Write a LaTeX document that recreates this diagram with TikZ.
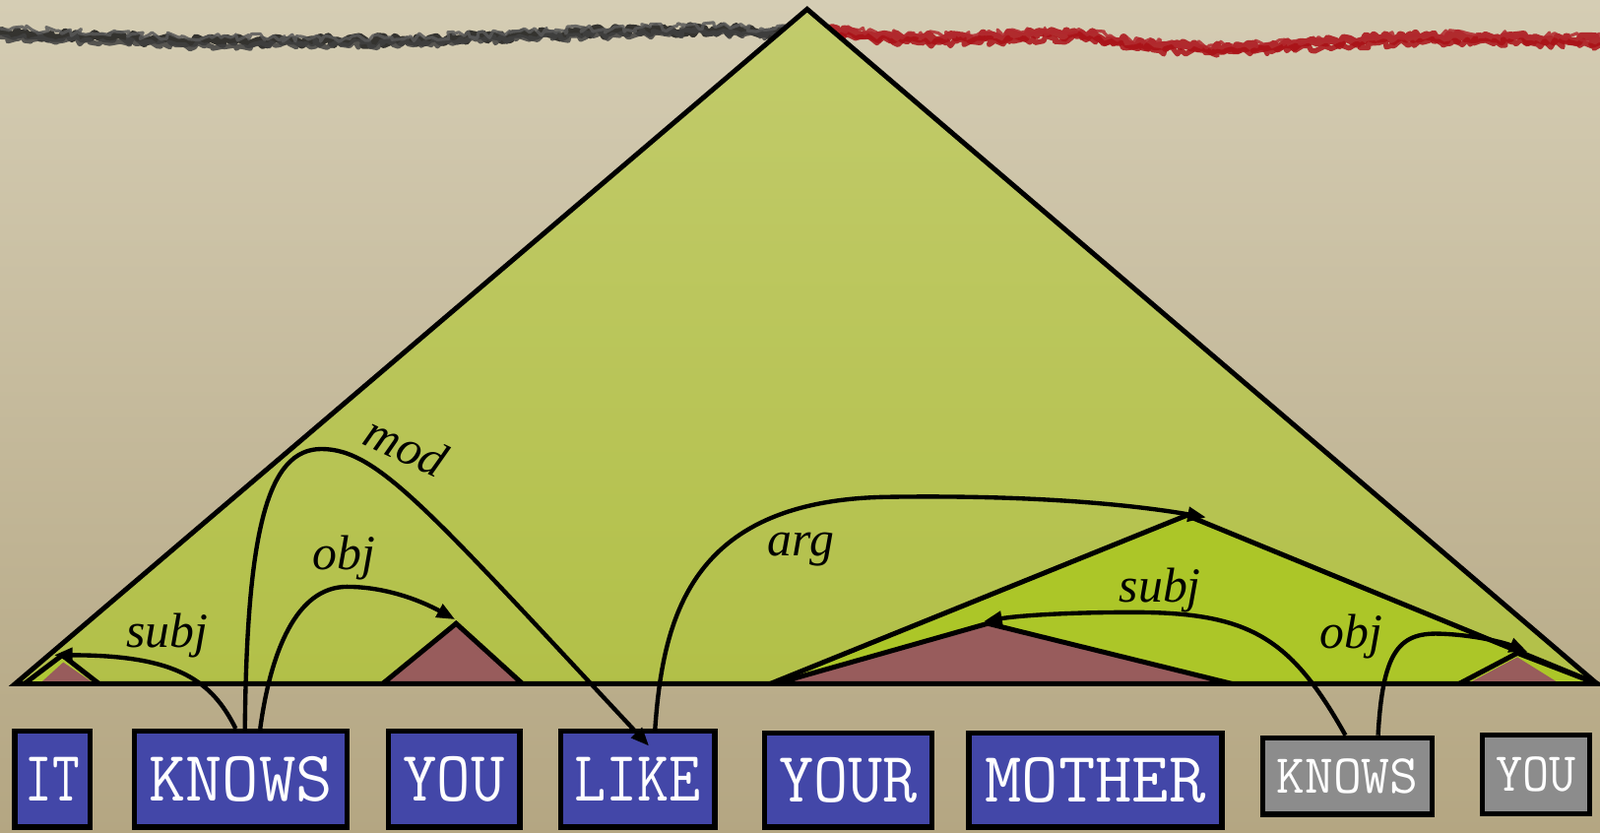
\documentclass[tikz,border=0pt]{standalone}
\usepackage{fontspec}
\newfontfamily\lblfont{Liberation Serif}
\usetikzlibrary{arrows.meta,decorations.pathmorphing}
\definecolor{paperTop}{RGB}{213,205,180}
\definecolor{paperBot}{RGB}{180,166,130}
\definecolor{limeTop}{RGB}{194,203,108}
\definecolor{limeBot}{RGB}{178,192,72}
\definecolor{brightLime}{RGB}{172,198,40}
\definecolor{rose}{RGB}{152,92,92}
\definecolor{boxblue}{RGB}{67,71,168}
\definecolor{boxgrey}{RGB}{140,140,140}
\definecolor{scribred}{RGB}{170,16,22}
\tikzset{
  tri/.style={draw=black, line width=2.4pt, line join=miter},
  conn/.style={draw=black, line width=2.1pt, -{Triangle[length=9pt,width=7pt]}},
  wbox/.style={draw=black, line width=2.5pt, fill=boxblue, text=white, inner sep=0pt,
    font=\ttfamily\addfontfeatures{FakeBold=1.2}\fontsize{35}{35}\selectfont, minimum height=47pt},
  gbox/.style={wbox, fill=boxgrey, font=\ttfamily\addfontfeatures{FakeBold=1.2}\fontsize{27}{27}\selectfont, minimum height=37.5pt},
  lbl/.style={font=\lblfont\itshape\fontsize{24}{24}\selectfont, inner sep=0pt, anchor=base},
  scribble/.style={line width=4pt, line cap=round, line join=round, opacity=0.85,
    decorate, decoration={random steps, segment length=2pt, amplitude=2pt}}
}
\begin{document}
\begin{tikzpicture}[x=0.5pt,y=-0.5pt]
\useasboundingbox (0,0) rectangle (1568,816);
% paper
\shade[top color=paperTop, bottom color=paperBot] (0,0) rectangle (1568,816);
% scribbled rules
\draw[scribble, black!90] (0,31) -- (50,34) -- (100,36) -- (150,39) -- (200,41) -- (300,40) -- (400,40) -- (450,38) -- (500,35) -- (600,31) -- (700,29) -- (760,31) -- (810,33);
\draw[scribble, black!75, line width=2.5pt] (0,36) -- (100,40) -- (200,45) -- (300,43) -- (400,43) -- (500,38) -- (600,34) -- (700,32) -- (810,36);
\draw[scribble, black!65, line width=1.5pt] (0,28) -- (100,33) -- (200,37) -- (300,37) -- (400,37) -- (500,32) -- (600,28) -- (700,26) -- (810,30);
\draw[scribble, scribred] (810,31) -- (860,35) -- (900,38) -- (950,37) -- (1000,35) -- (1060,33) -- (1100,40) -- (1130,45) -- (1200,47) -- (1250,45) -- (1300,42) -- (1350,38) -- (1400,36) -- (1450,37) -- (1500,38) -- (1568,40);
\draw[scribble, scribred, line width=2.5pt] (810,35) -- (900,42) -- (1000,39) -- (1060,37) -- (1130,49) -- (1200,51) -- (1300,46) -- (1400,40) -- (1500,42) -- (1568,44);
\draw[scribble, scribred!90, line width=1.5pt] (810,28) -- (900,35) -- (1000,32) -- (1060,30) -- (1130,42) -- (1200,44) -- (1300,39) -- (1400,33) -- (1500,35) -- (1568,37);
% big triangle
\path[tri, top color=limeTop, bottom color=limeBot] (15,670) -- (791,9) -- (1565,670) -- cycle;
% right subtree
\path[tri, fill=brightLime] (755,670) -- (1163,505) -- (1565,670) -- cycle;
\path[tri, fill=rose] (760,670) -- (968,611) -- (1207,670) -- cycle;
\fill[brightLime] (1430,670) -- (1487,640) -- (1565,670) -- cycle;
\fill[rose] (1440,669) -- (1487,644) -- (1527,669) -- cycle;
\draw[tri] (1430,670) -- (1487,640) -- (1565,670);
% left subtrees
\path[tri, fill=rose] (375,670) -- (447,611) -- (512,670) -- cycle;
\fill[brightLime!80!limeTop] (24,670) -- (61,642) -- (97,670) -- cycle;
\fill[rose] (40,669) -- (62,649) -- (91,669) -- cycle;
\draw[tri] (24,670) -- (61,642) -- (97,670);
% baseline
\draw[tri] (15,670) -- (1565,670);
% word boxes
\node[wbox, minimum width=37pt] (it) at (51.5,763.5) {\scalebox{0.74}[1]{IT}};
\node[wbox, minimum width=104.5pt] (knows) at (236,763.5) {KNOWS};
\node[wbox, minimum width=64.5pt] (you) at (445,763.5) {\scalebox{0.92}[1]{YOU}};
\node[wbox, minimum width=75.5pt] (like) at (625,763.5) {\scalebox{0.86}[1]{LIKE}};
\node[wbox, minimum width=82pt, minimum height=46pt] (your) at (831.5,764.5) {\scalebox{0.94}[1]{YOUR}};
\node[wbox, minimum width=124pt, minimum height=46pt] (mother) at (1073.5,764.5) {MOTHER};
\node[gbox, minimum width=83pt] (gknows) at (1320.5,760.5) {KNOWS};
\node[gbox, minimum width=52.5pt, minimum height=38.5pt] (gyou) at (1505,759) {\scalebox{0.94}[1]{YOU}};
% arrow targets
\coordinate (t1) at (53,642);
\coordinate (t2) at (446,607);
\coordinate (likein) at (636,731);
\coordinate (tin) at (1182,507);
\coordinate (t3) at (964,609);
\coordinate (t4) at (1497,639);
% connectors
\draw[conn] ([xshift=-2.5pt]knows.north) .. controls (208,668) and (175,642) .. (t1);
\draw[conn] ([xshift=2pt]knows.north) .. controls (242,520) and (262,440) .. (315,440)
  .. controls (370,440) and (420,500) .. (likein);
\draw[conn] ([xshift=9.5pt]knows.north) .. controls (265,640) and (290,575) .. (340,575)
  .. controls (380,575) and (415,590) .. (t2);
\draw[conn] ([xshift=8.5pt]like.north) .. controls (650,600) and (680,490) .. (870,487)
  .. controls (1000,485) and (1100,493) .. (tin);
\draw[conn] ([xshift=-1pt]gknows.north) .. controls (1265,625) and (1225,600) .. (1110,600)
  .. controls (1050,600) and (1000,603) .. (t3);
\draw[conn] ([xshift=15pt]gknows.north) .. controls (1355,640) and (1370,620) .. (1410,621)
  .. controls (1445,622) and (1475,630) .. (t4);
% labels
\node[lbl] (lsubj) at (164,634) {subj};
\node[lbl, anchor=center, rotate=-25] (lmod) at (398,437) {mod};
\node[lbl] (lobj) at (337,558) {obj};
\node[lbl] (larg) at (785,545) {arg};
\node[lbl] (lsubj2) at (1137,590) {subj};
\node[lbl] (lobj2) at (1324,635) {obj};
\end{tikzpicture}
\end{document}
